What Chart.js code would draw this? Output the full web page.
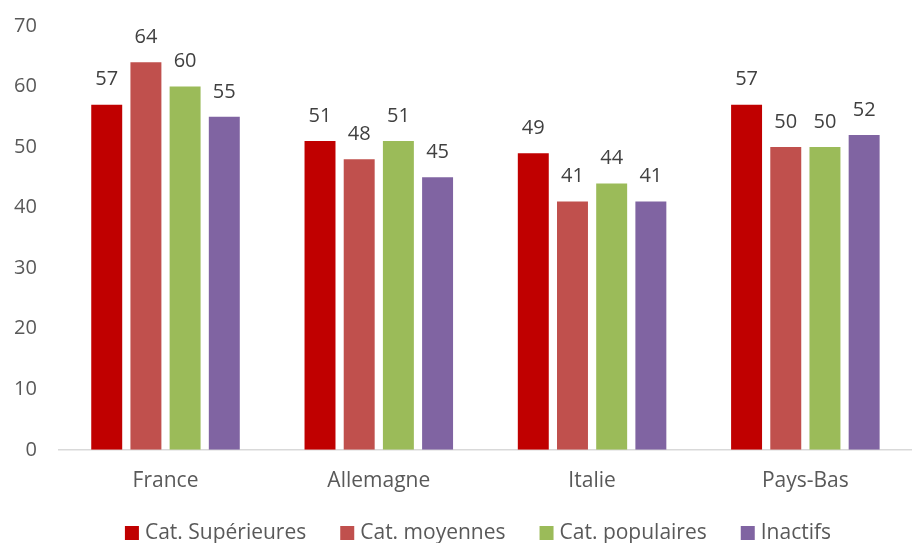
<!DOCTYPE html>
<html><head><meta charset="utf-8">
<script src="https://cdn.jsdelivr.net/npm/chart.js@4/dist/chart.umd.min.js"></script>
<style>html,body{margin:0;padding:0;background:#fff}#wrap{width:912px;height:543px}</style>
</head><body><div id="wrap"><canvas id="c" width="912" height="543"></canvas></div>
<script>
const categories = ["France", "Allemagne", "Italie", "Pays-Bas"];
const catSup = [57, 51, 49, 57];
const catMoy = [64, 48, 41, 50];
const catPop = [60, 51, 44, 50];
const inactifs = [55, 45, 41, 52];
const seriesNames = ["Cat. Supérieures", "Cat. moyennes", "Cat. populaires", "Inactifs"];
const colors = ["#C00000", "#C0504D", "#9BBB59", "#8064A2"];
const FONT = '"Open Sans", "Liberation Sans", sans-serif';

const labelPlugin = {
  id: 'labels',
  afterDatasetsDraw(chart) {
    const ctx = chart.ctx;
    ctx.save();
    ctx.font = '20px ' + FONT;
    ctx.fillStyle = '#404040';
    ctx.textAlign = 'center';
    ctx.textBaseline = 'middle';
    chart.data.datasets.forEach((ds, i) => {
      chart.getDatasetMeta(i).data.forEach((bar, j) => {
        ctx.fillText(String(ds.data[j]), bar.x, bar.y - 25);
      });
    });
    ctx.restore();
  }
};

// Bottom legend drawn from the chart's own datasets
const legendPlugin = {
  id: 'bottomLegend',
  afterDraw(chart) {
    const ctx = chart.ctx;
    ctx.save();
    ctx.font = '21px ' + FONT;
    ctx.textBaseline = 'middle';
    ctx.textAlign = 'left';
    const box = 14, boxGap = 6, itemGap = 34;
    const items = chart.data.datasets.map(ds => ({ text: ds.label, color: ds.backgroundColor, w: ctx.measureText(ds.label).width }));
    const total = items.reduce((s, it) => s + box + boxGap + it.w, 0) + itemGap * (items.length - 1);
    let x = 478 - total / 2;
    const y = chart.height - 10;
    items.forEach(it => {
      ctx.fillStyle = it.color;
      ctx.fillRect(x, y - box / 2, box, box);
      ctx.fillStyle = '#595959';
      ctx.fillText(it.text, x + box + boxGap, y);
      x += box + boxGap + it.w + itemGap;
    });
    ctx.restore();
  }
};

const data = [catSup, catMoy, catPop, inactifs];
new Chart(document.getElementById('c'), {
  type: 'bar',
  data: {
    labels: categories,
    datasets: data.map((d, i) => ({
      label: seriesNames[i], data: d, backgroundColor: colors[i],
      categoryPercentage: 0.735, barPercentage: 0.79
    }))
  },
  options: {
    responsive: false, animation: false,
    layout: { padding: { top: 13, right: 0, left: 0, bottom: 38 } },
    scales: {
      x: {
        grid: { display: false },
        border: { display: true, color: '#D9D9D9', width: 1.5 },
        ticks: { color: '#595959', font: { size: 21, family: FONT }, padding: 11 }
      },
      y: {
        min: 0, max: 70,
        grid: { display: false },
        border: { display: false },
        ticks: { stepSize: 10, color: '#595959', font: { size: 20, family: FONT }, padding: 14 }
      }
    },
    plugins: {
      legend: { display: false },
      tooltip: { enabled: false }
    }
  },
  plugins: [labelPlugin, legendPlugin]
});
</script></body></html>
